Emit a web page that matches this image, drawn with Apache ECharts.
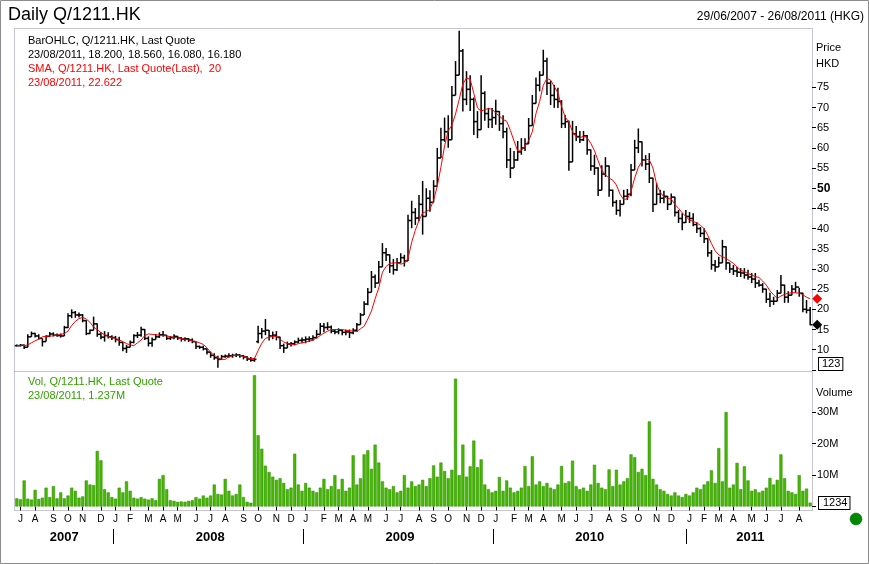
<!DOCTYPE html>
<html>
<head>
<meta charset="utf-8">
<title>Daily Q/1211.HK</title>
<script src="https://cdn.jsdelivr.net/npm/echarts@6/dist/echarts.min.js"></script>
<style>
  html, body { margin: 0; padding: 0; background: #fff; }
  #chart-main { width: 869px; height: 564px; }
</style>
</head>
<body>
<div id="chart-main"></div>
<script>
// weekly bars, one per Friday from 29/06/2007 to 26/08/2011
var opens = [
  11.0, 11.0, 11.1, 10.6, 13.2, 14.0, 13.4, 12.8, 12.0, 13.3,
  13.9, 13.6, 13.5, 13.4, 15.5, 18.4, 19.2, 18.6, 18.6, 17.2,
  14.0, 14.8, 16.4, 13.8, 13.1, 13.5, 13.2, 13.0, 12.5, 11.8,
  10.3, 10.6, 11.8, 13.5, 13.6, 15.0, 12.8, 11.6, 12.5, 13.2,
  13.7, 13.6, 12.8, 13.0, 13.3, 12.9, 12.6, 12.7, 12.4, 12.0,
  10.8, 10.6, 10.2, 9.4, 8.6, 8.0, 7.6, 8.3, 8.4, 8.5,
  8.6, 8.7, 8.5, 8.2, 7.7, 7.4, 12.0, 14.0, 14.6, 14.8,
  13.4, 13.6, 13.1, 11.0, 10.4, 11.4, 11.5, 11.9, 12.3, 12.4,
  12.6, 12.7, 13.0, 13.8, 15.8, 15.5, 15.6, 14.6, 14.4, 14.8,
  14.3, 14.4, 14.2, 14.8, 16.2, 18.6, 21.3, 24.2, 28.0, 26.5,
  30.5, 34.0, 33.5, 30.8, 29.8, 31.5, 32.8, 32.0, 42.0, 44.0,
  42.6, 46.0, 43.0, 47.5, 46.5, 50.5, 57.5, 62.0, 64.0, 62.0,
  73.0, 78.0, 84.0, 72.0, 74.5, 72.0, 66.5, 64.5, 73.5, 68.5,
  67.0, 67.5, 69.0, 66.0, 64.0, 57.0, 55.0, 57.0, 59.0, 60.0,
  61.0, 65.5, 71.0, 75.5, 78.0, 81.5, 76.0, 73.0, 72.0, 71.5,
  66.0, 66.5, 56.5, 63.5, 62.8, 62.0, 63.0, 59.5, 55.5, 55.0,
  49.5, 53.5, 55.5, 49.5, 46.5, 44.5, 46.0, 48.0, 48.5, 54.5,
  60.0, 61.5, 57.0, 56.0, 52.5, 46.0, 48.5, 47.5, 48.0, 46.0,
  47.8, 44.0, 42.5, 41.5, 43.0, 42.5, 41.0, 40.0, 38.8, 37.5,
  34.0, 31.0, 30.5, 31.5, 35.5, 31.5, 30.0, 29.5, 29.2, 29.0,
  28.5, 28.0, 27.5, 26.5, 26.0, 25.0, 22.5, 22.0, 22.0, 24.0,
  26.0, 23.0, 23.5, 25.0, 25.5, 24.0, 20.0, 19.8
];
var highs = [
  11.3, 11.4, 11.3, 13.8, 14.5, 14.2, 13.8, 12.8, 13.6, 14.4,
  14.3, 14.0, 14.0, 15.9, 19.0, 20.0, 19.6, 19.2, 18.8, 17.3,
  15.0, 18.2, 16.5, 14.4, 14.6, 14.3, 13.6, 13.4, 13.2, 11.9,
  11.2, 12.3, 13.8, 14.4, 15.7, 15.1, 13.3, 13.0, 13.9, 14.3,
  14.6, 13.6, 13.4, 13.8, 13.4, 13.1, 13.1, 12.9, 12.8, 12.1,
  11.0, 11.0, 10.2, 9.5, 9.1, 8.5, 8.7, 8.8, 9.1, 9.0,
  9.1, 8.9, 8.7, 8.4, 8.2, 8.0, 15.9, 15.4, 17.6, 14.9,
  14.5, 14.6, 13.2, 11.5, 12.0, 11.9, 12.3, 13.0, 13.0, 13.3,
  13.3, 13.6, 14.9, 16.6, 16.6, 16.8, 16.0, 15.0, 15.3, 15.0,
  15.0, 15.0, 15.3, 16.6, 19.1, 22.0, 25.3, 29.5, 28.6, 32.0,
  36.4, 35.2, 33.6, 32.5, 32.7, 33.9, 33.5, 43.4, 46.9, 45.1,
  48.3, 51.8, 50.0, 49.5, 52.0, 60.0, 65.0, 67.5, 68.1, 75.3,
  81.5, 89.0, 84.5, 79.0, 78.0, 72.5, 69.1, 78.0, 74.0, 69.9,
  69.9, 71.9, 69.1, 68.1, 65.0, 60.0, 59.2, 61.7, 62.4, 62.4,
  67.4, 73.1, 77.4, 79.0, 84.3, 82.3, 76.6, 75.6, 74.9, 71.8,
  68.1, 66.8, 66.7, 65.4, 64.2, 64.2, 63.2, 59.6, 58.3, 55.2,
  55.7, 57.7, 55.6, 49.6, 47.1, 47.1, 49.6, 49.8, 56.0, 62.0,
  64.8, 61.6, 58.2, 58.7, 52.6, 51.3, 49.6, 49.4, 48.1, 48.7,
  47.9, 44.6, 43.8, 44.6, 44.1, 43.8, 41.6, 40.4, 40.1, 37.6,
  34.7, 32.2, 33.0, 37.2, 35.6, 31.5, 31.0, 30.5, 30.2, 30.2,
  29.8, 29.0, 29.0, 27.3, 26.5, 25.1, 24.1, 23.1, 24.8, 28.5,
  26.1, 24.5, 26.0, 26.8, 25.3, 24.1, 22.3, 20.6
];
var lows = [
  10.8, 10.8, 10.2, 10.6, 13.2, 13.0, 12.5, 10.8, 12.0, 13.2,
  13.3, 13.2, 13.0, 13.4, 15.4, 17.8, 17.9, 18.0, 16.8, 13.6,
  13.9, 14.8, 13.2, 12.6, 12.0, 12.8, 12.4, 11.8, 11.0, 9.6,
  9.2, 10.6, 11.6, 12.9, 13.2, 12.4, 10.8, 10.7, 12.5, 12.9,
  13.2, 12.4, 12.4, 12.6, 12.4, 12.0, 12.1, 11.9, 11.6, 10.2,
  10.2, 9.8, 8.8, 8.0, 7.5, 5.5, 7.5, 8.0, 8.0, 8.0,
  8.2, 8.0, 7.6, 7.2, 7.0, 7.0, 11.6, 12.8, 13.6, 12.3,
  12.6, 12.3, 10.2, 9.2, 10.4, 10.8, 11.1, 11.6, 11.6, 11.6,
  11.9, 12.2, 12.8, 13.8, 14.3, 14.9, 14.1, 13.8, 13.8, 13.6,
  13.6, 12.9, 13.8, 14.4, 16.2, 18.6, 21.0, 24.2, 25.3, 26.5,
  30.5, 32.0, 29.0, 28.6, 29.5, 31.5, 30.6, 32.0, 40.1, 40.9,
  41.8, 38.5, 43.0, 44.2, 46.5, 50.5, 57.5, 61.5, 60.0, 62.0,
  73.0, 78.0, 69.0, 70.6, 69.1, 63.2, 62.4, 64.5, 66.7, 64.9,
  64.9, 65.7, 64.2, 62.4, 55.0, 52.5, 55.0, 56.8, 58.3, 59.2,
  61.0, 65.5, 71.0, 74.0, 78.0, 73.1, 70.6, 69.9, 69.9, 64.9,
  64.9, 54.3, 56.5, 61.7, 61.2, 61.7, 58.3, 54.3, 53.3, 48.1,
  49.5, 52.8, 47.9, 45.4, 43.4, 43.0, 46.0, 47.1, 48.0, 54.5,
  58.7, 55.4, 54.5, 51.3, 44.1, 46.0, 46.3, 46.3, 44.6, 46.0,
  43.0, 41.4, 39.6, 41.4, 41.4, 40.6, 38.9, 37.9, 36.4, 33.0,
  29.8, 29.3, 30.5, 31.5, 29.8, 29.0, 28.5, 28.0, 28.0, 27.6,
  27.3, 26.5, 25.3, 25.6, 24.1, 21.6, 20.6, 21.1, 22.0, 24.0,
  21.6, 21.6, 23.5, 24.1, 23.1, 19.3, 19.0, 16.08
];
var closes = [
  11.0, 11.1, 10.6, 13.2, 14.0, 13.4, 12.8, 12.0, 13.3, 13.9,
  13.6, 13.5, 13.4, 15.5, 18.4, 19.2, 18.6, 18.6, 17.2, 14.0,
  14.8, 16.4, 13.8, 13.1, 13.5, 13.2, 13.0, 12.5, 11.8, 10.3,
  10.6, 11.8, 13.5, 13.6, 15.0, 12.8, 11.6, 12.5, 13.2, 13.7,
  13.6, 12.8, 13.0, 13.3, 12.9, 12.6, 12.7, 12.4, 12.0, 10.8,
  10.6, 10.2, 9.4, 8.6, 8.0, 7.6, 8.3, 8.4, 8.5, 8.6,
  8.7, 8.5, 8.2, 7.7, 7.4, 7.6, 14.0, 14.6, 14.8, 13.4,
  13.6, 13.1, 11.0, 10.4, 11.4, 11.5, 11.9, 12.3, 12.4, 12.6,
  12.7, 13.0, 13.8, 15.8, 15.5, 15.6, 14.6, 14.4, 14.8, 14.3,
  14.4, 14.2, 14.8, 16.2, 18.6, 21.3, 24.2, 28.0, 26.5, 30.5,
  34.0, 33.5, 30.8, 29.8, 31.5, 32.8, 32.0, 42.0, 44.0, 42.6,
  46.0, 43.0, 47.5, 46.5, 50.5, 57.5, 62.0, 64.0, 62.0, 73.0,
  78.0, 84.0, 72.0, 74.5, 72.0, 66.5, 64.5, 73.5, 68.5, 67.0,
  67.5, 69.0, 66.0, 64.0, 57.0, 55.0, 57.0, 59.0, 60.0, 61.0,
  65.5, 71.0, 75.5, 78.0, 81.5, 76.0, 73.0, 72.0, 71.5, 66.0,
  66.5, 56.5, 63.5, 62.8, 62.0, 63.0, 59.5, 55.5, 55.0, 49.5,
  53.5, 55.5, 49.5, 46.5, 44.5, 46.0, 48.0, 48.5, 54.5, 60.0,
  61.5, 57.0, 56.0, 52.5, 46.0, 48.5, 47.5, 48.0, 46.0, 47.8,
  44.0, 42.5, 41.5, 43.0, 42.5, 41.0, 40.0, 38.8, 37.5, 34.0,
  31.0, 30.5, 31.5, 35.5, 31.5, 30.0, 29.5, 29.2, 29.0, 28.5,
  28.0, 27.5, 26.5, 26.0, 25.0, 22.5, 22.0, 22.0, 24.0, 26.0,
  23.0, 23.5, 25.0, 25.5, 24.0, 20.0, 19.8, 16.18
];
// 20 day SMA as drawn in red
var sma20 = [
  11.0, 11.0, 11.0, 11.2, 11.7, 12.2, 12.6, 13.2, 13.3, 13.4,
  13.4, 13.6, 13.8, 14.0, 14.6, 16.0, 17.0, 17.7, 18.0, 17.6,
  16.8, 15.6, 15.0, 14.2, 13.7, 13.3, 13.0, 12.8, 12.4, 12.0,
  11.5, 11.2, 11.0, 11.7, 12.4, 13.5, 13.9, 13.8, 13.7, 13.6,
  13.5, 13.4, 13.2, 13.1, 12.9, 12.7, 12.6, 12.4, 12.2, 12.0,
  11.7, 11.3, 10.5, 9.3, 8.6, 8.0, 7.6, 7.6, 8.3, 8.5,
  8.6, 8.6, 8.4, 8.0, 7.8, 7.8, 9.8, 11.6, 12.8, 13.1,
  13.3, 13.3, 12.6, 11.9, 11.5, 11.3, 11.2, 11.5, 11.7, 11.9,
  12.1, 12.4, 12.9, 13.5, 14.1, 14.6, 15.0, 15.0, 15.0, 15.0,
  14.8, 14.7, 14.6, 14.5, 15.2, 15.8, 17.6, 19.6, 22.6, 25.3,
  29.2, 30.6, 31.4, 31.5, 31.5, 31.2, 31.4, 32.6, 36.6, 39.6,
  42.0, 43.9, 44.2, 44.8, 47.0, 50.5, 55.2, 60.5, 64.2, 65.6,
  68.4, 72.0, 75.8, 77.3, 77.0, 73.5, 69.9, 69.1, 69.5, 69.7,
  69.6, 68.6, 67.9, 67.0, 66.6, 64.3, 61.7, 59.2, 59.3, 60.5,
  61.8, 64.0, 68.5, 71.5, 75.5, 77.2, 76.8, 75.2, 73.6, 70.2,
  67.6, 66.4, 64.0, 62.7, 62.5, 62.9, 62.5, 61.1, 59.3, 56.8,
  54.5, 53.3, 52.5, 52.0, 50.8, 48.5, 47.2, 47.4, 49.2, 52.5,
  55.2, 56.6, 57.2, 57.0, 55.0, 51.0, 49.0, 47.8, 47.5, 47.3,
  46.0, 45.0, 43.9, 43.0, 42.1, 41.8, 41.4, 40.8, 40.0, 38.3,
  36.3, 34.5, 33.5, 33.0, 32.6, 32.0, 31.4, 30.5, 29.7, 29.3,
  28.9, 28.5, 28.1, 27.9, 27.0, 26.0, 24.6, 23.6, 22.7, 23.3,
  23.7, 24.0, 24.1, 24.1, 24.0, 23.6, 23.0, 22.622
];
// volume, millions
var volumes = [
  2.6, 2.3, 8.3, 2.5, 2.2, 5.3, 2.4, 2.8, 6.0, 3.0,
  6.5, 2.6, 4.5, 2.6, 3.5, 6.0, 5.0, 2.8, 3.2, 8.3,
  7.0, 6.8, 17.7, 14.7, 5.5, 4.5, 3.0, 2.5, 6.0, 4.5,
  8.0, 5.0, 2.8, 2.5, 3.0, 2.5, 2.2, 2.6, 2.0, 8.8,
  10.0, 5.5, 2.0, 1.8, 1.5, 1.6, 1.5, 1.8, 2.0, 3.0,
  2.5, 3.5, 2.8, 3.5, 7.0, 4.0, 3.8, 8.8, 5.0, 3.5,
  4.0, 7.0, 3.0, 1.5, 1.2, 41.8, 22.7, 18.4, 13.0, 11.0,
  9.5, 8.5, 9.0, 7.5, 5.5, 6.0, 16.8, 7.0, 5.0, 7.5,
  6.0, 5.0, 4.5, 6.0, 8.8, 5.5, 6.5, 10.0, 5.5, 8.8,
  5.0, 6.0, 16.3, 7.0, 9.0, 16.6, 17.9, 12.0, 19.7, 14.0,
  8.0, 6.0, 5.5, 6.5, 4.5, 5.0, 10.0, 6.0, 8.0, 6.5,
  7.0, 8.5, 6.5, 9.0, 13.1, 9.5, 14.0, 11.3, 9.0, 11.7,
  40.7, 10.0, 19.7, 9.5, 12.8, 21.0, 12.5, 15.0, 7.0, 5.5,
  4.5, 5.0, 9.4, 5.0, 8.3, 6.0, 4.5, 5.0, 6.0, 12.9,
  6.5, 16.0, 7.0, 8.0, 6.5, 7.5, 6.0, 5.5, 7.0, 12.9,
  7.5, 8.0, 14.6, 6.5, 5.5, 6.0, 5.0, 7.0, 13.3, 7.5,
  6.0, 5.5, 11.8, 6.5, 11.7, 7.0, 8.0, 9.0, 16.6, 15.7,
  11.0, 12.0, 10.0, 27.1, 8.8, 7.0, 5.5, 5.0, 4.0, 3.5,
  4.5, 3.5, 3.0, 4.0, 3.5, 4.5, 6.0, 5.5, 7.0, 8.0,
  11.5, 7.5, 18.6, 8.0, 30.1, 6.0, 7.0, 13.9, 5.5, 12.8,
  8.3, 5.0, 5.5, 4.5, 5.0, 6.0, 9.1, 7.0, 8.5, 16.6,
  9.0, 5.0, 4.5, 4.0, 10.0, 5.0, 5.7, 1.237
];
var priceTicks = [10, 15, 20, 25, 30, 35, 40, 45, 50, 55, 60, 65, 70, 75];
var volumeTicks = [10, 20, 30];
var monthLetters = ['J', 'F', 'M', 'A', 'M', 'J', 'J', 'A', 'S', 'O', 'N', 'D'];
var lastSma = 22.622;
var lastClose = 16.18;

// week categories (Fridays)
var weeks = [];
var weekDates = [];
for (var i = 0; i < closes.length; i++) {
  var d = new Date(Date.UTC(2007, 5, 29 + i * 7));
  weekDates.push(d);
  weeks.push(d.toISOString().slice(0, 10));
}
var monthStart = weekDates.map(function (d, i) {
  return i > 0 && d.getUTCMonth() !== weekDates[i - 1].getUTCMonth();
});
var yearStart = weekDates.map(function (d, i) {
  return i > 0 && d.getUTCFullYear() !== weekDates[i - 1].getUTCFullYear();
});
var yearMid = weekDates.map(function () { return false; });
var byYear = {};
weekDates.forEach(function (d, i) {
  var y = d.getUTCFullYear();
  (byYear[y] = byYear[y] || []).push(i);
});
Object.keys(byYear).forEach(function (y) {
  var idx = byYear[y];
  yearMid[idx[Math.floor(idx.length / 2)]] = true;
});
// the year row runs a little past the right edge so its closing tick falls off the page
var padWeeks = 16;
var yearCats = weeks.slice();
for (var p = 0; p < padWeeks; p++) yearCats.push('pad' + p);

var ohlcData = weeks.map(function (w, i) {
  return [i, opens[i], closes[i], lows[i], highs[i]];
});

function renderOhlc(params, api) {
  var x = api.value(0);
  var o = api.coord([x, api.value(1)]);
  var c = api.coord([x, api.value(2)]);
  var l = api.coord([x, api.value(3)]);
  var h = api.coord([x, api.value(4)]);
  var half = api.size([1, 0])[0] * 0.55;
  var style = { stroke: '#000', lineWidth: 1.5 };
  return {
    type: 'group',
    children: [
      { type: 'line', shape: { x1: h[0], y1: h[1], x2: l[0], y2: l[1] }, style: style },
      { type: 'line', shape: { x1: o[0] - half, y1: o[1], x2: o[0], y2: o[1] }, style: style },
      { type: 'line', shape: { x1: c[0], y1: c[1], x2: c[0] + half, y2: c[1] }, style: style }
    ]
  };
}

var FONT = '"Liberation Sans", Arial, sans-serif';
var NARROW = '"Liberation Sans Narrow", "Liberation Sans", Arial, sans-serif';
var frameColor = '#8a8aaa';
var plotWidth = 797;

var myChart = echarts.init(document.getElementById('chart-main'));
var option = {
  backgroundColor: '#fff',
  animation: false,
  textStyle: { fontFamily: FONT },
  grid: [
    { left: 15, top: 28, width: plotWidth, height: 343 },
    { left: 15, top: 371, width: plotWidth, height: 135.5 },
    { left: 15, top: 529, width: plotWidth * (weeks.length + padWeeks) / weeks.length, height: 15 }
  ],
  xAxis: [
    {
      type: 'category', gridIndex: 0, data: weeks, boundaryGap: true,
      axisLine: { show: false }, axisTick: { show: false }, axisLabel: { show: false }
    },
    {
      type: 'category', gridIndex: 1, data: weeks, boundaryGap: true, offset: 5,
      axisLine: { show: false },
      axisTick: {
        show: true, alignWithLabel: true, length: 4,
        interval: function (i) { return monthStart[i]; },
        lineStyle: { color: '#000' }
      },
      axisLabel: {
        interval: function (i) { return monthStart[i]; },
        formatter: function (v, i) { return monthStart[i] ? monthLetters[weekDates[i].getUTCMonth()] : ''; },
        margin: 3, fontSize: 10, color: '#000', fontFamily: NARROW
      }
    },
    {
      type: 'category', gridIndex: 2, data: yearCats, boundaryGap: true,
      axisLine: { show: false },
      axisTick: {
        show: true, inside: true, length: 15,
        interval: function (i) { return !!yearStart[i]; },
        lineStyle: { color: '#000', width: 1 }
      },
      axisLabel: {
        inside: true, margin: 7, verticalAlign: 'middle',
        interval: function (i) { return !!yearMid[i]; },
        formatter: function (v, i) { return yearMid[i] ? v.slice(0, 4) : ''; },
        fontSize: 13, fontWeight: 'bold', color: '#000', fontFamily: NARROW
      }
    }
  ],
  yAxis: [
    {
      type: 'value', gridIndex: 0, position: 'right', min: 4.72, max: 89.69,
      splitLine: { show: false }, axisLine: { show: false },
      axisTick: { show: true, length: 4, customValues: [5].concat(priceTicks), lineStyle: { color: '#000' } },
      axisLabel: {
        customValues: priceTicks, margin: 5, color: '#000', fontSize: 11,
        formatter: function (v) { return v === 50 ? '{b|50}' : String(v); },
        rich: { b: { fontWeight: 'bold', fontSize: 12, color: '#000' } }
      }
    },
    {
      type: 'value', gridIndex: 1, position: 'right', min: 0, max: 43.15,
      splitLine: { show: false }, axisLine: { show: false },
      axisTick: { show: true, length: 4, customValues: [0].concat(volumeTicks), lineStyle: { color: '#000' } },
      axisLabel: {
        customValues: volumeTicks, margin: 5, color: '#000', fontSize: 11,
        formatter: function (v) { return v + 'M'; }
      }
    },
    { type: 'value', gridIndex: 2, show: false }
  ],
  series: [
    {
      name: 'BarOHLC', type: 'custom', xAxisIndex: 0, yAxisIndex: 0,
      renderItem: renderOhlc, data: ohlcData,
      encode: { x: 0, y: [1, 2, 3, 4] }, silent: true
    },
    {
      name: 'SMA', type: 'line', xAxisIndex: 0, yAxisIndex: 0, data: sma20,
      showSymbol: false, symbol: 'none', silent: true,
      lineStyle: { color: '#ff0000', width: 1 },
      markPoint: {
        symbol: 'diamond', symbolSize: [10, 10], symbolOffset: [7, 0], silent: true,
        label: { show: false },
        data: [
          { coord: [weeks[weeks.length - 1], lastSma], itemStyle: { color: '#ff0000' } },
          { coord: [weeks[weeks.length - 1], lastClose], itemStyle: { color: '#000' } }
        ]
      }
    },
    {
      name: 'Vol', type: 'bar', xAxisIndex: 1, yAxisIndex: 1, data: volumes,
      barCategoryGap: '15%', silent: true,
      itemStyle: { color: '#44b800', borderColor: '#2f8a00', borderWidth: 0.5 }
    }
  ],
  graphic: [
    { type: 'rect', silent: true, shape: { x: 0.5, y: 0.5, width: 868, height: 563 }, style: { fill: 'none', stroke: '#8c8c8c' } },
    { type: 'rect', silent: true, shape: { x: 14.5, y: 28.5, width: 798, height: 482 }, style: { fill: 'none', stroke: frameColor, lineDash: [1, 1] } },
    { type: 'line', silent: true, shape: { x1: 14.5, y1: 371.5, x2: 812.5, y2: 371.5 }, style: { stroke: frameColor, lineDash: [1, 1] } },
    { type: 'text', silent: true, x: 8, y: 15, style: { text: 'Daily Q/1211.HK', font: '18px ' + FONT, fill: '#000', verticalAlign: 'middle' } },
    { type: 'text', silent: true, x: 864, y: 17, style: { text: '29/06/2007 - 26/08/2011 (HKG)', font: '12px ' + NARROW, fill: '#000', align: 'right', verticalAlign: 'middle' } },
    { type: 'text', silent: true, x: 28, y: 41, style: { text: 'BarOHLC, Q/1211.HK, Last Quote', font: '11px ' + FONT, fill: '#000', verticalAlign: 'middle' } },
    { type: 'text', silent: true, x: 28, y: 55, style: { text: '23/08/2011, 18.200, 18.560, 16.080, 16.180', font: '11px ' + FONT, fill: '#000', verticalAlign: 'middle' } },
    { type: 'text', silent: true, x: 28, y: 69, style: { text: 'SMA, Q/1211.HK, Last Quote(Last),  20', font: '11px ' + FONT, fill: '#ff0000', verticalAlign: 'middle' } },
    { type: 'text', silent: true, x: 28, y: 83, style: { text: '23/08/2011, 22.622', font: '11px ' + FONT, fill: '#ff0000', verticalAlign: 'middle' } },
    { type: 'text', silent: true, x: 28, y: 382, style: { text: 'Vol, Q/1211.HK, Last Quote', font: '11px ' + FONT, fill: '#33a000', verticalAlign: 'middle' } },
    { type: 'text', silent: true, x: 28, y: 396, style: { text: '23/08/2011, 1.237M', font: '11px ' + FONT, fill: '#33a000', verticalAlign: 'middle' } },
    { type: 'text', silent: true, x: 816, y: 48, style: { text: 'Price', font: '11px ' + FONT, fill: '#000', verticalAlign: 'middle' } },
    { type: 'text', silent: true, x: 816, y: 64, style: { text: 'HKD', font: '11px ' + FONT, fill: '#000', verticalAlign: 'middle' } },
    { type: 'text', silent: true, x: 816, y: 393, style: { text: 'Volume', font: '11px ' + FONT, fill: '#000', verticalAlign: 'middle' } },
    { type: 'text', silent: true, x: 819, y: 364, style: { text: '123', font: '11px ' + FONT, fill: '#000', verticalAlign: 'middle', backgroundColor: '#fff', borderColor: '#000', borderWidth: 1, padding: [1, 2, 0, 3] } },
    { type: 'text', silent: true, x: 819, y: 503, style: { text: '1234', font: '11px ' + FONT, fill: '#000', verticalAlign: 'middle', backgroundColor: '#fff', borderColor: '#000', borderWidth: 1, padding: [1, 2, 0, 4] } },
    { type: 'circle', silent: true, shape: { cx: 856, cy: 519, r: 6 }, style: { fill: '#008a00', stroke: '#006000', lineWidth: 0.5 } }
  ]
};
myChart.setOption(option);
</script>
</body>
</html>
